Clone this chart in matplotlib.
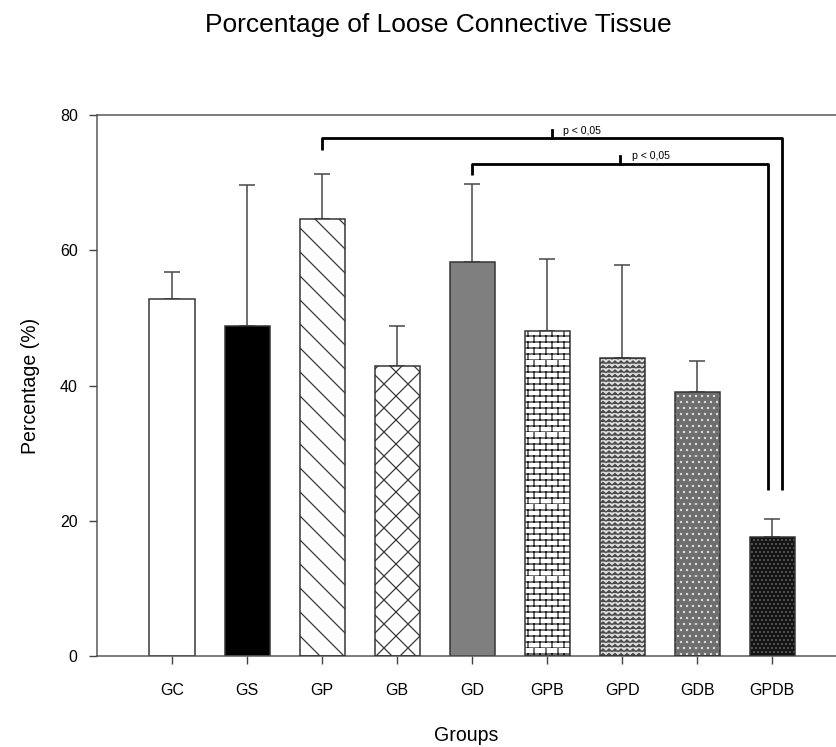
import numpy as np
import matplotlib.pyplot as plt
from matplotlib import hatch as mhatch
from matplotlib.path import Path

plt.rcParams['font.family'] = ['Liberation Sans', 'DejaVu Sans']

# data
groups = ['GC', 'GS', 'GP', 'GB', 'GD', 'GPB', 'GPD', 'GDB', 'GPDB']
means = [52.8, 48.8, 64.6, 42.9, 58.3, 48.0, 44.1, 39.1, 17.6]
sd = [4.0, 20.9, 6.7, 5.9, 11.5, 10.7, 13.7, 4.5, 2.6]

# significance brackets: (from group, to group, bracket height, left leg bottom, right leg shift)
brackets = [('GP', 'GPDB', 76.6, 74.9, 0.13), ('GD', 'GPDB', 72.8, 71.2, -0.05)]
leg_bottom = 24.6
sig_label = 'p < 0,05'


# extra hatch patterns: 'b' = bricks, 'z' = zigzag
class BrickHatch(mhatch.HatchPatternBase):
    def __init__(self, hatch, density):
        self.rows = hatch.count('b') * 12
        self.cols = 6
        self.num_vertices = self.rows * 2 + self.rows * self.cols * 2

    def set_vertices_and_codes(self, vertices, codes):
        i = 0
        for r in range(self.rows):
            y0 = r / self.rows
            y1 = (r + 1) / self.rows
            vertices[i] = (0, y0)
            vertices[i + 1] = (1, y0)
            codes[i] = Path.MOVETO
            codes[i + 1] = Path.LINETO
            i += 2
            for k in range(self.cols):
                xv = (k + 0.5 * (r % 2)) / self.cols
                vertices[i] = (xv, y0)
                vertices[i + 1] = (xv, y1)
                codes[i] = Path.MOVETO
                codes[i + 1] = Path.LINETO
                i += 2


class ZigzagHatch(mhatch.HatchPatternBase):
    def __init__(self, hatch, density):
        self.rows = hatch.count('z') * 16
        self.steps = 24
        self.num_vertices = self.rows * (self.steps + 1)

    def set_vertices_and_codes(self, vertices, codes):
        amp = 0.3 / self.rows
        i = 0
        for r in range(self.rows):
            y = (r + 0.5) / self.rows
            for j in range(self.steps + 1):
                vertices[i] = (j / self.steps, y + (amp if j % 2 else -amp))
                codes[i] = Path.MOVETO if j == 0 else Path.LINETO
                i += 1


mhatch._hatch_types.extend([BrickHatch, ZigzagHatch])

# bar styles: face, hatch, hatch colour
styles = [
    ('white', '', None),
    ('black', '', None),
    ('white', '\\', '#333333'),
    ('white', 'x', '#333333'),
    ('#7f7f7f', '', None),
    ('white', 'b', '#1a1a1a'),
    ('#e0e0e0', 'z', '#4a4a4a'),
    ('#6e6e6e', '..', '#dadada'),
    ('#141414', '...', '#5e5e5e'),
]

# drawn at 72 dpi so that hatch tiles are 72 px, like the original
fig = plt.figure(figsize=(836 / 72, 747 / 72), dpi=72)
ax = fig.add_axes([0.116, 0.1218, 0.884, 0.7242])

x = np.arange(1, len(groups) + 1)
w = 0.6

plt.rcParams['hatch.linewidth'] = 1.2
for xi, m, (fc, h, hc) in zip(x, means, styles):
    if h:
        ax.bar(xi, m, w, color=fc, edgecolor=hc, hatch=h, linewidth=0, zorder=2)
        ax.bar(xi, m, w, color='none', edgecolor='#333333', linewidth=1.5, zorder=3)
    else:
        ax.bar(xi, m, w, color=fc, edgecolor='#333333', linewidth=1.5, zorder=2)

ax.errorbar(x, means, yerr=[np.zeros(len(sd)), sd], fmt='none', ecolor='#444444',
            elinewidth=1.5, capsize=8.3, capthick=1.5, zorder=1)

# brackets
for g1, g2, top, bot, dx in brackets:
    x1 = x[groups.index(g1)]
    x2 = x[groups.index(g2)] + dx
    ax.plot([x1, x1, x2, x2], [bot, top, top, leg_bottom], color='black', lw=2.8,
            solid_joinstyle='round', solid_capstyle='butt', zorder=4)
    xm = (x1 + x2) / 2
    ax.plot([xm, xm], [top, top + 1.2], color='black', lw=2.8, zorder=4)
    ax.text(xm + 0.15, top + 0.35, sig_label, fontsize=10.5, ha='left', va='bottom')

ax.set_xlim(0, 9.85)
ax.set_ylim(0, 80)
ax.set_yticks([0, 20, 40, 60, 80])
ax.set_xticks(x)
ax.set_xticklabels(groups)
ax.tick_params(axis='both', direction='out', length=8.3, width=1.4, color='#444444',
               labelsize=16)
ax.tick_params(axis='x', pad=19)
ax.tick_params(axis='y', pad=11)
for s in ['left', 'bottom', 'top']:
    ax.spines[s].set_color('#555555')
    ax.spines[s].set_linewidth(1.5)
ax.spines['right'].set_visible(False)

ax.set_xlabel('Groups', fontsize=19.5, labelpad=28)
ax.set_ylabel('Percentage (%)', fontsize=19.5, labelpad=20)
fig.text(0.524, 0.966, 'Porcentage of Loose Connective Tissue', fontsize=26.4,
         ha='center', va='center')

fig.savefig('out.png', dpi=72)
